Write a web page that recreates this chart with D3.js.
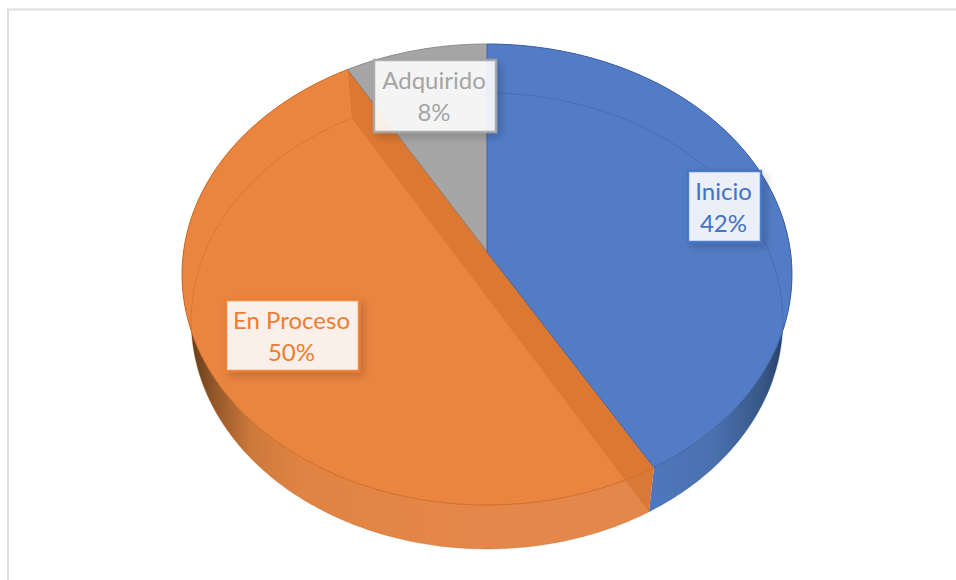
<!DOCTYPE html>
<html>

<head>
    <meta charset="utf-8">
    <style>
        html, body {
            margin: 0;
            padding: 0;
            background: white;
        }

        svg {
            display: block;
        }

        .label text {
            font-family: Lato, 'Open Sans', sans-serif;
            font-size: 24px;
            text-anchor: middle;
        }
    </style>
</head>

<body>
    <svg width="956" height="580"></svg>

    <script src="https://d3js.org/d3.v7.min.js"></script>
    <script>
        // values
        const categories = ["Inicio", "En Proceso", "Adquirido"];
        const percents = [41.6, 50.1, 8.3];
        const percentLabels = ["42%", "50%", "8%"];

        const faceColors = ["#527cc5", "#ea8540", "#a6a6a6"];
        const textColors = ["#4472c4", "#ed7d31", "#a5a5a5"];
        const borderColors = ["#4472c4", "#ed7d31", "#a5a5a5"];

        let svg = d3.select("svg");

        // pie seen at an angle: centre of the disc sits above the centre of the ellipse
        const cx = 487, cy = 252, persp = -0.0976, ky = 203.7, kx = 303.5;

        function topPoint(a) {
            let u = Math.sin(a), v = -Math.cos(a), w = 1 + persp * v;
            return [cx + kx * u / w, (ky * v + cy) / w];
        }

        // bottom of the pie is the same disc, a bit smaller and moved down
        function bottomPoint(a) {
            let p = topPoint(a);
            return [cx + (p[0] - cx) * 0.97, p[1] * 0.989 + 49.5];
        }

        function arcPoints(f, a0, a1) {
            let n = Math.ceil(Math.abs(a1 - a0) / 0.01);
            return d3.range(n + 1).map(i => f(a0 + (a1 - a0) * i / n));
        }

        let line = d3.line().curve(d3.curveLinear);

        let slices = d3.pie().sort(null).value(d => d)(percents);

        let defs = svg.append("defs");

        function wallGradient(id, x1, x2, stops) {
            let g = defs.append("linearGradient")
                .attr("id", id)
                .attr("gradientUnits", "userSpaceOnUse")
                .attr("x1", x1).attr("x2", x2).attr("y1", 0).attr("y2", 0);
            stops.forEach(s => g.append("stop").attr("offset", s[0]).attr("stop-color", s[1]));
        }

        wallGradient("wall0", 645, 785, [[0, "#4f78bf"], [0.5, "#4a70ae"], [0.85, "#375685"], [1, "#263d62"]]);
        wallGradient("wall1", 186, 480, [[0, "#5a3719"], [0.1, "#95582a"], [0.22, "#cc793b"], [0.4, "#e08443"], [1, "#e4874a"]]);
        wallGradient("wall2", 0, 956, [[0, "#8a8a8a"], [1, "#8a8a8a"]]);

        let shadow = defs.append("filter")
            .attr("id", "shadow")
            .attr("x", "-20%").attr("y", "-20%")
            .attr("width", "150%").attr("height", "150%");
        shadow.append("feDropShadow")
            .attr("dx", 4).attr("dy", 4)
            .attr("stdDeviation", 4)
            .attr("flood-color", "#000")
            .attr("flood-opacity", 0.2);

        // frame of the chart area, only top and left show
        svg.append("path")
            .attr("d", line([[956, 9.5], [8, 9.5], [8, 580]]))
            .attr("fill", "none")
            .attr("stroke", "#dedede")
            .attr("stroke-width", 2);

        // side walls
        svg.append("g")
            .selectAll("path")
            .data(slices)
            .join("path")
            .attr("fill", (d, i) => "url(#wall" + i + ")")
            .attr("d", d => line(arcPoints(topPoint, d.startAngle, d.endAngle)
                .concat(arcPoints(bottomPoint, d.endAngle, d.startAngle))) + "Z");

        // top faces
        svg.append("g")
            .selectAll("path")
            .data(slices)
            .join("path")
            .attr("fill", (d, i) => faceColors[i])
            .attr("d", d => line([[cx, cy]].concat(arcPoints(topPoint, d.startAngle, d.endAngle))) + "Z");

        // bottom rim, seen through the translucent top
        svg.append("g")
            .selectAll("path")
            .data(slices.slice(0, 2))
            .join("path")
            .attr("fill", "none")
            .attr("stroke", (d, i) => i == 0 ? "#2f5597" : "#b85f1f")
            .attr("stroke-opacity", 0.45)
            .attr("stroke-width", 0.8)
            .attr("d", d => line(arcPoints(bottomPoint, d.startAngle, d.endAngle)));

        // inner cut wall of the orange slice, it shows through the face
        let cutStart = slices[1].startAngle, cutEnd = slices[1].endAngle;
        svg.append("path")
            .attr("fill", "#c9661f")
            .attr("fill-opacity", 0.42)
            .attr("d", line([topPoint(cutEnd), topPoint(cutStart), bottomPoint(cutStart), bottomPoint(cutEnd)]) + "Z");

        // top rim
        svg.append("g")
            .selectAll("path")
            .data(slices)
            .join("path")
            .attr("fill", "none")
            .attr("stroke", (d, i) => ["#3c5f9e", "#cf6b25", "#8f8f8f"][i])
            .attr("stroke-width", 1)
            .attr("d", d => line(arcPoints(topPoint, d.startAngle, d.endAngle)));

        // edges between the slices
        svg.append("path")
            .attr("fill", "none")
            .attr("stroke", "#44659f")
            .attr("stroke-width", 1)
            .attr("d", line([topPoint(slices[2].endAngle), [cx, cy], topPoint(slices[1].startAngle)]));

        svg.append("path")
            .attr("fill", "none")
            .attr("stroke", "#6b6b6b")
            .attr("stroke-opacity", 0.7)
            .attr("stroke-width", 0.8)
            .attr("d", line([[cx, cy], topPoint(slices[2].startAngle)]));

        // label boxes
        const boxes = [
            { x: 688, y: 171, w: 73, h: 71 },
            { x: 226, y: 300, w: 133, h: 71 },
            { x: 374, y: 60, w: 122, h: 72 }
        ];

        let labels = svg.append("g")
            .selectAll("g")
            .data(categories)
            .join("g")
            .attr("class", "label")
            .attr("transform", (d, i) => "translate(" + boxes[i].x + "," + boxes[i].y + ")");

        labels.append("rect")
            .attr("width", (d, i) => boxes[i].w)
            .attr("height", (d, i) => boxes[i].h)
            .attr("fill", "#fff")
            .attr("fill-opacity", 0.88)
            .attr("stroke", (d, i) => borderColors[i])
            .attr("stroke-opacity", 0.9)
            .attr("stroke-width", 2.5)
            .style("filter", "url(#shadow)");

        labels.append("text")
            .attr("x", (d, i) => boxes[i].w / 2 - 1)
            .attr("y", 29)
            .attr("fill", (d, i) => textColors[i])
            .text(d => d);

        labels.append("text")
            .attr("x", (d, i) => boxes[i].w / 2 - 1)
            .attr("y", 61)
            .attr("fill", (d, i) => textColors[i])
            .text((d, i) => percentLabels[i]);
    </script>
</body>

</html>
